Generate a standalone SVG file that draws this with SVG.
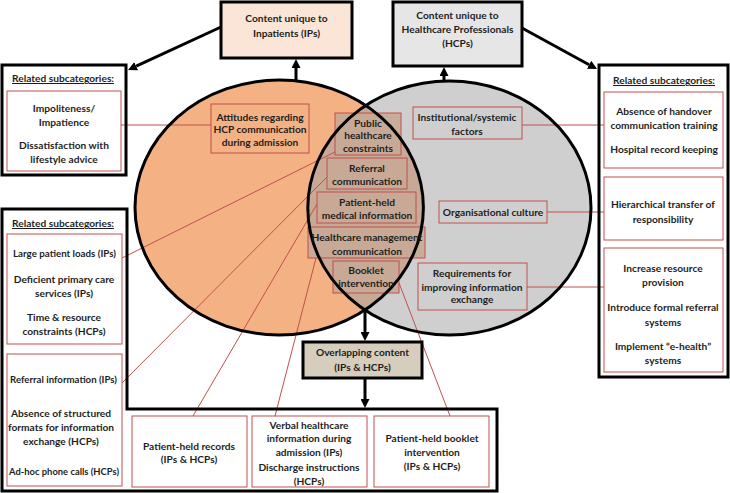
<svg xmlns="http://www.w3.org/2000/svg" width="730" height="493" viewBox="0 0 730 493">
<style>
.t{font-family:Lato,"Open Sans","Liberation Sans",sans-serif;font-weight:700;font-size:10.2px;fill:#1e1e1e;text-anchor:middle}
.u{text-decoration:underline}
.blk{fill:none;stroke:#000;stroke-width:3}
.rb{fill:none;stroke:#c0504d;stroke-width:1}
.ob{fill:#c8a995;fill-opacity:0.9;stroke:#c0504d;stroke-width:1}
.cn{fill:none;stroke:#c0504d;stroke-width:1}
.ar{fill:none;stroke:#000;stroke-width:3}
</style>
<defs>
<marker id="ah" viewBox="0 0 10 10" refX="0" refY="5" markerWidth="9" markerHeight="9" markerUnits="userSpaceOnUse" orient="auto">
<path d="M0,0 L10,5 L0,10 z" fill="#000"/>
</marker>
<clipPath id="clipL"><ellipse cx="279.2" cy="207.5" rx="144.2" ry="127.5"/></clipPath>
</defs>
<rect width="730" height="493" fill="#fff"/>

<g id="venn">
<ellipse cx="279.2" cy="207.5" rx="144.2" ry="127.5" fill="#f4b183"/>
<ellipse cx="449.4" cy="208" rx="141.6" ry="127" fill="#d0cfcf"/>
<ellipse cx="449.4" cy="208" rx="141.6" ry="127" fill="#c8a995" clip-path="url(#clipL)"/>
</g>

<g id="connectors">
<line class="cn" x1="121" y1="125" x2="211" y2="125"/>
<line class="cn" x1="122" y1="258" x2="335" y2="152"/>
<line class="cn" x1="122" y1="383" x2="327" y2="177"/>
<line class="cn" x1="193" y1="416" x2="317" y2="204"/>
<line class="cn" x1="275" y1="416" x2="316" y2="258"/>
<line class="cn" x1="450" y1="416" x2="399" y2="283"/>
<line class="cn" x1="522" y1="125" x2="604" y2="125"/>
<line class="cn" x1="547" y1="212" x2="604" y2="212"/>
<line class="cn" x1="527" y1="287" x2="604" y2="287"/>
<line class="ar" x1="296" y1="81" x2="296" y2="68" marker-end="url(#ah)"/>
<line class="ar" x1="444" y1="81" x2="444" y2="76" marker-end="url(#ah)"/>
<line class="ar" x1="221" y1="27" x2="136.2" y2="66.2" marker-end="url(#ah)"/>
<line class="ar" x1="522" y1="28" x2="589.1" y2="64.7" marker-end="url(#ah)"/>
<line class="ar" x1="365" y1="310" x2="365" y2="332" marker-end="url(#ah)"/>
<line class="ar" x1="365" y1="378" x2="365" y2="399" marker-end="url(#ah)"/>
</g>

<g id="n-attitudes"><rect class="rb" x="211" y="104" width="98" height="49"/>
<text class="t" x="260" y="121">Attitudes regarding</text>
<text class="t" x="260" y="133">HCP communication</text>
<text class="t" x="260" y="146">during admission</text></g>

<g id="n-institutional"><rect class="rb" x="413" y="107" width="109" height="32"/>
<text class="t" x="467" y="121">Institutional/systemic</text>
<text class="t" x="467" y="135">factors</text></g>

<g id="n-organisational"><rect class="rb" x="439" y="201" width="108" height="22"/>
<text class="t" x="493" y="216">Organisational culture</text></g>

<g id="n-requirements"><rect class="rb" x="418" y="263" width="109" height="47"/>
<text class="t" x="472" y="277">Requirements for</text>
<text class="t" x="472" y="291">improving information</text>
<text class="t" x="472" y="303">exchange</text></g>

<g id="n-public"><rect class="ob" x="335" y="113" width="66" height="42"/></g>
<g id="n-referral"><rect class="ob" x="327" y="158" width="80" height="31"/></g>
<g id="n-patientheld"><rect class="ob" x="317" y="192" width="99" height="31"/></g>
<g id="n-management"><rect class="ob" x="308" y="227" width="117" height="31"/></g>
<g id="n-booklet"><rect class="ob" x="333" y="261" width="66" height="32"/></g>

<g id="outlines">
<ellipse class="blk" cx="279.2" cy="207.5" rx="144.2" ry="127.5"/>
<ellipse class="blk" cx="449.4" cy="208" rx="141.6" ry="127"/>
</g>

<g id="overlap-labels">
<text class="t" x="368" y="127">Public</text>
<text class="t" x="368" y="139">healthcare</text>
<text class="t" x="368" y="152">constraints</text>
<text class="t" x="367" y="172">Referral</text>
<text class="t" x="367" y="185">communication</text>
<text class="t" x="367" y="206">Patient-held</text>
<text class="t" x="367" y="219">medical information</text>
<text class="t" x="367" y="241">Healthcare management</text>
<text class="t" x="367" y="255">communication</text>
<text class="t" x="366" y="274">Booklet</text>
<text class="t" x="366" y="287">intervention</text>
</g>

<g id="n-ip"><rect x="221" y="2" width="131" height="56" fill="#fbe5d6" stroke="#000" stroke-width="3"/>
<text class="t" x="286.5" y="22">Content unique to</text>
<text class="t" x="286.5" y="37">Inpatients (IPs)</text></g>

<g id="n-hcp"><rect x="393" y="2" width="129" height="64" fill="#e7e6e6" stroke="#000" stroke-width="3"/>
<text class="t" x="457.5" y="19">Content unique to</text>
<text class="t" x="457.5" y="33">Healthcare Professionals</text>
<text class="t" x="457.5" y="47">(HCPs)</text></g>

<g id="n-left1"><rect class="blk" x="2" y="65" width="124" height="110"/>
<text class="t u" x="63" y="82">Related subcategories:</text>
<rect class="rb" x="7" y="91" width="114" height="80"/>
<text class="t" x="64" y="112">Impoliteness/</text>
<text class="t" x="64" y="126">Impatience</text>
<text class="t" x="64" y="149">Dissatisfaction with</text>
<text class="t" x="64" y="163">lifestyle advice</text></g>

<g id="n-left2"><polygon class="blk" points="2,209 127,209 127,409 497,409 497,491 2,491"/>
<text class="t u" x="63" y="227">Related subcategories:</text>
<rect class="rb" x="7" y="234" width="115" height="110"/>
<text class="t" x="64.5" y="257" textLength="103" lengthAdjust="spacingAndGlyphs">Large patient loads (IPs)</text>
<text class="t" x="64" y="283">Deficient primary care</text>
<text class="t" x="64" y="297">services (IPs)</text>
<text class="t" x="64" y="321">Time &amp; resource</text>
<text class="t" x="64" y="335">constraints (HCPs)</text>
<rect class="rb" x="7" y="354" width="115" height="132"/>
<text class="t" x="63.5" y="383" textLength="107" lengthAdjust="spacingAndGlyphs">Referral information (IPs)</text>
<text class="t" x="61" y="417">Absence of structured</text>
<text class="t" x="61" y="431">formats for information</text>
<text class="t" x="61" y="445">exchange (HCPs)</text>
<text class="t" x="64" y="475" textLength="110" lengthAdjust="spacingAndGlyphs">Ad-hoc phone calls (HCPs)</text></g>

<g id="n-right"><rect class="blk" x="599" y="65" width="129" height="312"/>
<text class="t u" x="664" y="84">Related subcategories:</text>
<rect class="rb" x="604" y="92" width="119" height="76"/>
<text class="t" x="664" y="115">Absence of handover</text>
<text class="t" x="664" y="129">communication training</text>
<text class="t" x="664" y="153">Hospital record keeping</text>
<rect class="rb" x="604" y="177" width="119" height="63"/>
<text class="t" x="663" y="208">Hierarchical transfer of</text>
<text class="t" x="663" y="223">responsibility</text>
<rect class="rb" x="604" y="248" width="119" height="124"/>
<text class="t" x="663" y="272">Increase resource</text>
<text class="t" x="663" y="286">provision</text>
<text class="t" x="663" y="311">Introduce formal referral</text>
<text class="t" x="663" y="326">systems</text>
<text class="t" x="663" y="350">Implement “e-health”</text>
<text class="t" x="663" y="364">systems</text></g>

<g id="n-overlap"><rect x="303" y="342" width="119" height="36" fill="#d6cdbc" stroke="#000" stroke-width="3"/>
<text class="t" x="362.5" y="356">Overlapping content</text>
<text class="t" x="362.5" y="371">(IPs &amp; HCPs)</text></g>

<g id="n-records"><rect class="rb" x="132" y="416" width="115" height="71"/>
<text class="t" x="189" y="450">Patient-held records</text>
<text class="t" x="189" y="463">(IPs &amp; HCPs)</text></g>

<g id="n-verbal"><rect class="rb" x="252" y="416" width="115" height="71"/>
<text class="t" x="309" y="429">Verbal healthcare</text>
<text class="t" x="309" y="442">information during</text>
<text class="t" x="309" y="456">admission (IPs)</text>
<text class="t" x="309" y="471">Discharge instructions</text>
<text class="t" x="309" y="485">(HCPs)</text></g>

<g id="n-bookletint"><rect class="rb" x="374" y="416" width="115" height="71"/>
<text class="t" x="432" y="442">Patient-held booklet</text>
<text class="t" x="432" y="456">intervention</text>
<text class="t" x="432" y="470">(IPs &amp; HCPs)</text></g>
</svg>
